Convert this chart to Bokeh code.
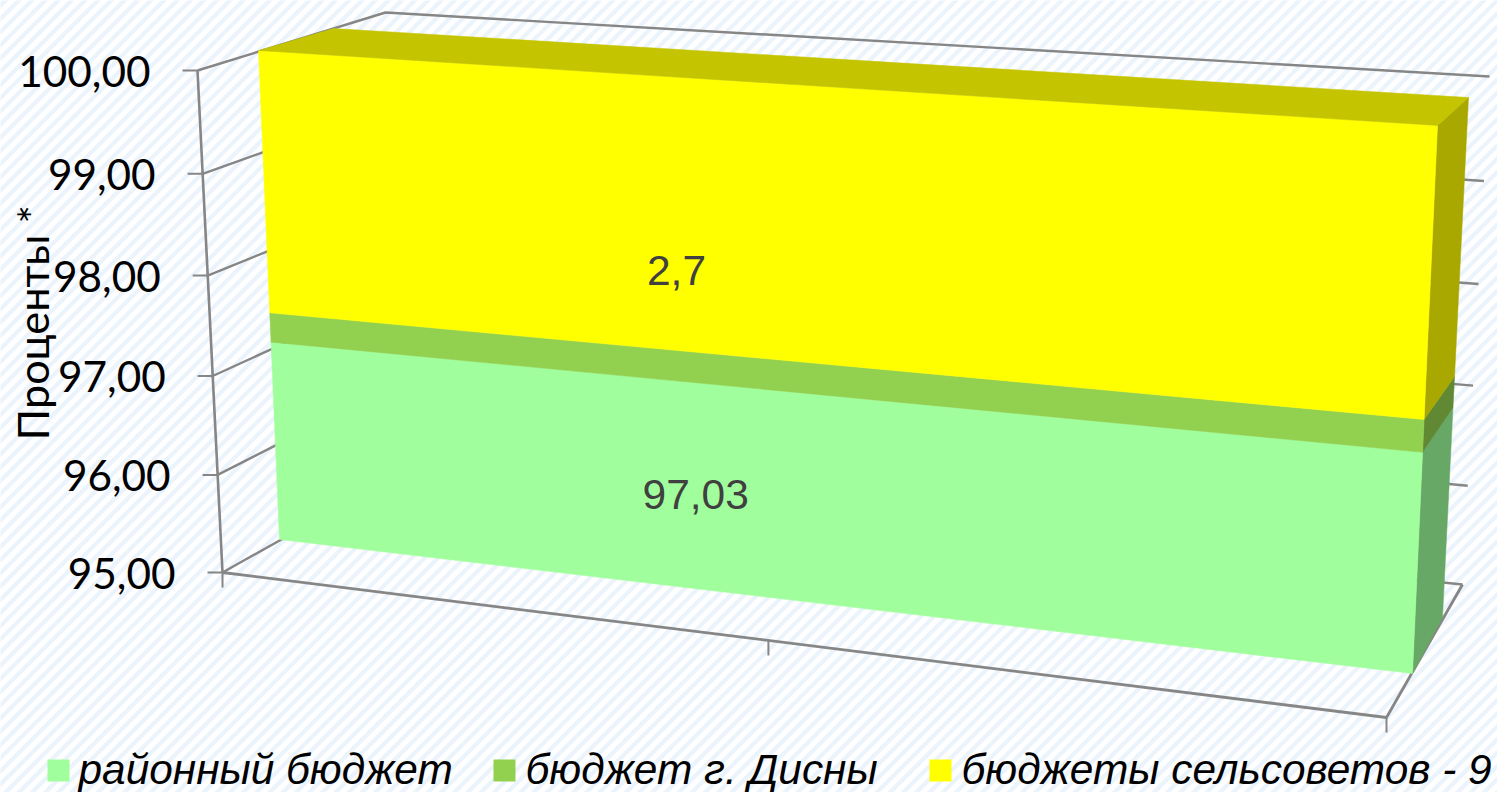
from bokeh.plotting import figure
from bokeh.models import Range1d
from bokeh.core.properties import value
from bokeh.embed import file_html
from bokeh.resources import INLINE
import math

# ---- chart data ----
series_names = ["районный бюджет", "бюджет г. Дисны", "бюджеты сельсоветов - 9"]
series_values = [97.03, 0.30, 2.67]
series_labels = ["97,03", None, "2,7"]
series_colors = ["#A0FF9C", "#92D050", "#FFFF00"]
side_colors = ["#68A866", "#618934", "#A8A800"]
top_color = "#C4C400"
tick_values = [95, 96, 97, 98, 99, 100]
tick_labels = ["95,00", "96,00", "97,00", "98,00", "99,00", "100,00"]
axis_title = "Проценты *"
V_MIN, V_MAX = 95.0, 100.0

# ---- projected geometry (screen positions of the 3-D box edges) ----
W, H = 1497, 792
WALL_FRONT_LEFT = ((222, 572), (197, 70))
WALL_BACK_LEFT = ((395, 475), (385, 12))
WALL_BACK_RIGHT = ((1462, 584), (1489, 76))
FLOOR_FRONT_RIGHT = (1386, 717)
BAR_FL = ((279, 539), (258, 50))
BAR_FR = ((1412, 673), (1437, 125))
BAR_BL = ((366, 496), (333, 28))
BAR_BR = ((1442, 617), (1468, 97))
GRID_R = 0.965
BAR_R = 0.99
MID_TICK_U = 0.469


def on_edge(edge, v, r=1.0):
    t = (v - V_MIN) / (V_MAX - V_MIN)
    a, b = edge
    w = (1 - t) + t * r
    return ((a[0] * (1 - t) + b[0] * t * r) / w, (a[1] * (1 - t) + b[1] * t * r) / w)


p = figure(width=W, height=H, output_backend="svg", toolbar_location=None,
           x_range=Range1d(0, W), y_range=Range1d(H, 0), min_border=0,
           background_fill_color="#FFFFFF", border_fill_color="#FFFFFF")
p.axis.visible = False
p.grid.visible = False
p.outline_line_color = None
p.styles = {"position": "absolute", "left": "0px", "top": "0px"}

# background stripes
period = 13.2
sx, sy = [], []
c = -H
while c < W + H:
    sx.append([c, c + H + 10])
    sy.append([H + 5, -5])
    c += period
p.multi_line(sx, sy, line_color="#EBF3FC", line_width=4.2)

AXC = "#868686"
# gridlines along wall, with ticks
for v in tick_values:
    a = on_edge(WALL_FRONT_LEFT, v, GRID_R)
    b = on_edge(WALL_BACK_LEFT, v, GRID_R)
    d = on_edge(WALL_BACK_RIGHT, v, GRID_R)
    p.line([a[0] - 15, a[0]], [a[1], a[1]], line_color=AXC, line_width=2)
    p.line([a[0], b[0], d[0]], [a[1], b[1], d[1]], line_color=AXC, line_width=2.4)

# left axis line
a, b = on_edge(WALL_FRONT_LEFT, V_MIN), on_edge(WALL_FRONT_LEFT, V_MAX)
p.line([a[0], b[0]], [a[1], b[1]], line_color=AXC, line_width=2.6)
# floor
fl = on_edge(WALL_FRONT_LEFT, V_MIN)
br = on_edge(WALL_BACK_RIGHT, V_MIN)
p.line([fl[0], FLOOR_FRONT_RIGHT[0], br[0]], [fl[1], FLOOR_FRONT_RIGHT[1], br[1]],
       line_color=AXC, line_width=2.8)
mid = (fl[0] + (FLOOR_FRONT_RIGHT[0] - fl[0]) * MID_TICK_U,
       fl[1] + (FLOOR_FRONT_RIGHT[1] - fl[1]) * MID_TICK_U)
for q in (fl, mid, FLOOR_FRONT_RIGHT):
    p.line([q[0], q[0]], [q[1], q[1] + 15], line_color=AXC, line_width=2)

# stacked 3-D bar
base = V_MIN
for val, col, side in zip(series_values, series_colors, side_colors):
    top = base + val if base > V_MIN else val
    fl0, fr0, br0 = on_edge(BAR_FL, base, BAR_R), on_edge(BAR_FR, base, BAR_R), on_edge(BAR_BR, base, BAR_R)
    fl1, fr1, br1 = on_edge(BAR_FL, top, BAR_R), on_edge(BAR_FR, top, BAR_R), on_edge(BAR_BR, top, BAR_R)
    p.patch([fr0[0], br0[0], br1[0], fr1[0]], [fr0[1], br0[1], br1[1], fr1[1]],
            fill_color=side, line_color=side, line_width=0.5)
    p.patch([fl0[0], fr0[0], fr1[0], fl1[0]], [fl0[1], fr0[1], fr1[1], fl1[1]],
            fill_color=col, line_color=col, line_width=0.5)
    base = top
# top face
fl1, fr1 = on_edge(BAR_FL, base), on_edge(BAR_FR, base)
br1, bl1 = on_edge(BAR_BR, base), on_edge(BAR_BL, base)
p.patch([fl1[0], fr1[0], br1[0], bl1[0]], [fl1[1], fr1[1], br1[1], bl1[1]],
        fill_color=top_color, line_color=top_color, line_width=0.5)

# data labels
label_pos = [(0.368, 95.92), None, (0.353, 98.10)]
for lab, pos in zip(series_labels, label_pos):
    if lab is None:
        continue
    l, r = on_edge(BAR_FL, pos[1]), on_edge(BAR_FR, pos[1])
    x = l[0] + (r[0] - l[0]) * pos[0]
    y = l[1] + (r[1] - l[1]) * pos[0]
    p.text([x], [y], text=[lab], text_font=value("Liberation Sans"), text_font_size="42.5px",
           text_color="#404040", text_align="center", text_baseline="middle")

# tick labels
for v, lab in zip(tick_values, tick_labels):
    a = on_edge(WALL_FRONT_LEFT, v, GRID_R)
    p.text([a[0] - 47], [a[1] + 1], text=[lab], text_font=value("Lato"), text_font_size="42.3px",
           text_color="#000000", text_align="right", text_baseline="middle")

# axis title
p.text([31], [440], text=[axis_title], angle=math.pi / 2, text_font=value("Lato"),
       text_font_size="43.2px", text_color="#000000", text_align="left", text_baseline="middle")

# legend
leg_box = [47, 493, 929]
leg_text = [78, 525, 961]
for name, col, bx, tx in zip(series_names, series_colors, leg_box, leg_text):
    p.quad(left=[bx], right=[bx + 22], top=[759], bottom=[781], fill_color=col, line_color=None)
    p.text([tx], [769], text=[name], text_font=value("Liberation Sans"), text_font_size="42.4px",
           text_font_style="italic", text_color="#000000", text_align="left",
           text_baseline="middle")

open("out.html", "w").write(file_html(p, INLINE))
